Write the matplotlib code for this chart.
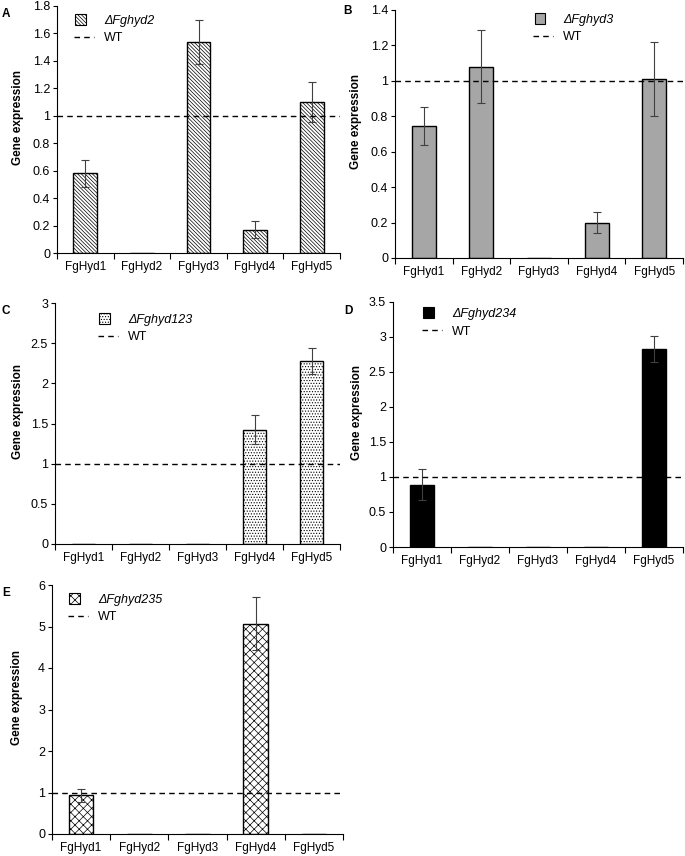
import numpy as np
import matplotlib
matplotlib.use("Agg")
import matplotlib.pyplot as plt
from matplotlib.patches import Rectangle, Patch
from matplotlib.lines import Line2D
from matplotlib.legend_handler import HandlerPatch

plt.rcParams['font.family'] = ['Liberation Sans', 'DejaVu Sans']
plt.rcParams['hatch.linewidth'] = 0.5

genes = ["FgHyd1", "FgHyd2", "FgHyd3", "FgHyd4", "FgHyd5"]

a_vals = [0.58, 0.0, 1.54, 0.17, 1.10]
a_err = [0.10, 0.0, 0.16, 0.06, 0.145]
b_vals = [0.745, 1.08, 0.0, 0.20, 1.01]
b_err = [0.108, 0.205, 0.0, 0.06, 0.21]
c_vals = [0.0, 0.0, 0.0, 1.42, 2.28]
c_err = [0.0, 0.0, 0.0, 0.18, 0.16]
d_vals = [0.89, 0.0, 0.0, 0.0, 2.83]
d_err = [0.22, 0.0, 0.0, 0.0, 0.19]
e_vals = [0.93, 0.0, 0.0, 5.07, 0.0]
e_err = [0.15, 0.0, 0.0, 0.63, 0.0]

wt_level = 1.0

W, H = 685, 856
fig = plt.figure(figsize=(W / 100, H / 100), dpi=100)


def px_axes(left, right, top, bottom):
    return fig.add_axes([left / W, 1 - bottom / H, (right - left) / W, (bottom - top) / H])


def square_patch(legend, orig_handle, xdescent, ydescent, width, height, fontsize):
    s = height * 1.2
    return Rectangle((-xdescent + 1, -ydescent + (height - s) / 2), s, s)


panels = [
    dict(letter="A", pos=(57, 340, 6, 253), vals=a_vals, err=a_err, ymax=1.8, step=0.2,
         fc="white", hatch="\\" * 9, name="Fghyd2", leg=(0.06, 0.965), letpos=(2, 8), ylx=-0.115),
    dict(letter="B", pos=(395, 683, 10, 258), vals=b_vals, err=b_err, ymax=1.4, step=0.2,
         fc="#a6a6a6", hatch=None, name="Fghyd3", leg=(0.48, 0.985), letpos=(343, 5), ylx=-0.115),
    dict(letter="C", pos=(55, 340, 303, 544), vals=c_vals, err=c_err, ymax=3.0, step=0.5,
         fc="white", hatch="......", name="Fghyd123", leg=(0.15, 0.955), letpos=(2, 305), ylx=-0.11),
    dict(letter="D", pos=(393, 683, 302, 547), vals=d_vals, err=d_err, ymax=3.5, step=0.5,
         fc="black", hatch=None, name="Fghyd234", leg=(0.10, 0.975), letpos=(344, 305), ylx=-0.105),
    dict(letter="E", pos=(52, 343, 585, 834), vals=e_vals, err=e_err, ymax=6.0, step=1.0,
         fc="white", hatch="xxxx", name="Fghyd235", leg=(0.055, 0.965), letpos=(2, 587), ylx=-0.10),
]

for p in panels:
    ax = px_axes(*p["pos"])
    x = np.arange(len(genes)) + 0.5
    vals = np.array(p["vals"])
    err = np.array(p["err"])
    ax.bar(x, vals, width=0.42, color=p["fc"], edgecolor="black", linewidth=1.0,
           hatch=p["hatch"], zorder=2)
    m = vals > 0
    ax.errorbar(x[m], vals[m], yerr=err[m], fmt="none", ecolor="#404040",
                elinewidth=0.8, capsize=3, capthick=0.8, zorder=3)
    ax.axhline(wt_level, color="black", linestyle=(0, (4, 3)), linewidth=1.0, zorder=4)

    ax.set_xlim(0, len(genes))
    ax.set_ylim(0, p["ymax"])
    yt = np.arange(0, p["ymax"] + 1e-9, p["step"])
    ax.set_yticks(yt)
    ax.set_yticklabels([("%g" % v) for v in yt], fontsize=9)
    ax.set_xticks(np.arange(0, len(genes) + 1))
    ax.set_xticklabels([])
    ax.set_xticks(x, minor=True)
    ax.set_xticklabels(genes, minor=True, fontsize=8.5)
    ax.tick_params(axis="x", which="major", direction="out", length=4, width=0.8)
    ax.tick_params(axis="x", which="minor", length=0, pad=6)
    ax.tick_params(axis="y", direction="out", length=3, width=0.8, pad=2)
    for s in ["top", "right"]:
        ax.spines[s].set_visible(False)
    for s in ["left", "bottom"]:
        ax.spines[s].set_linewidth(0.8)
    ax.set_ylabel("Gene expression", fontsize=8.5, fontweight="bold")
    ax.yaxis.set_label_coords(p["ylx"], 0.55)

    h_patch = Patch(facecolor=p["fc"], edgecolor="black", hatch=p["hatch"], linewidth=0.8)
    h_line = Line2D([], [], color="black", linestyle=(0, (4, 3)), linewidth=1.0)
    leg = ax.legend([h_patch, h_line], ["\u0394" + p["name"], "WT"],
                    loc="upper left", bbox_to_anchor=p["leg"], frameon=False, fontsize=9,
                    handlelength=1.6, handleheight=0.7, handletextpad=0.8, labelspacing=0.45,
                    borderaxespad=0, borderpad=0,
                    handler_map={Patch: HandlerPatch(patch_func=square_patch)})
    leg.get_texts()[0].set_fontstyle("italic")

    fig.text(p["letpos"][0] / W, 1 - p["letpos"][1] / H, p["letter"], fontsize=8.5,
             fontweight="bold", ha="left", va="top")

fig.savefig("out.png", dpi=100)
